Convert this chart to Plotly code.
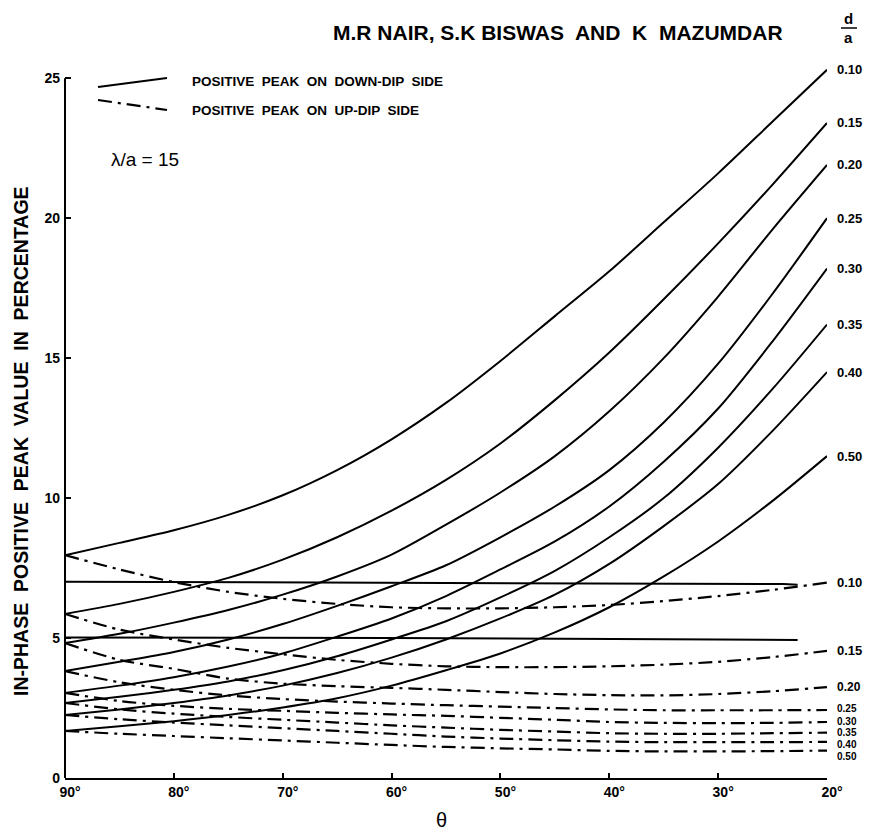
import plotly.graph_objects as go

# ---- data -------------------------------------------------------------
theta = [90, 85, 80, 75, 70, 65, 60, 55, 50, 45, 40, 35, 30, 25, 20]
ratios = ["0.10", "0.15", "0.20", "0.25", "0.30", "0.35", "0.40", "0.50"]

# positive peak on down-dip side (solid)
down_010 = [7.96, 8.4, 8.85, 9.4, 10.1, 11.0, 12.1, 13.4, 14.9, 16.5, 18.1, 19.85, 21.6, 23.45, 25.3]
down_015 = [5.86, 6.22, 6.65, 7.15, 7.8, 8.6, 9.55, 10.65, 11.95, 13.5, 15.2, 17.1, 19.1, 21.2, 23.4]
down_020 = [4.82, 5.15, 5.55, 6.0, 6.55, 7.2, 7.98, 9.05, 10.2, 11.5, 13.1, 15.0, 17.2, 19.6, 21.9]
down_025 = [3.82, 4.15, 4.5, 4.95, 5.5, 6.15, 6.85, 7.6, 8.6, 9.7, 11.0, 12.7, 14.8, 17.3, 20.0]
down_030 = [3.04, 3.3, 3.6, 3.98, 4.45, 5.05, 5.7, 6.5, 7.45, 8.45, 9.7, 11.3, 13.2, 15.6, 18.2]
down_035 = [2.68, 2.9, 3.15, 3.45, 3.85, 4.35, 4.95, 5.6, 6.45, 7.4, 8.6, 10.0, 11.8, 13.9, 16.2]
down_040 = [2.25, 2.45, 2.68, 2.95, 3.3, 3.75, 4.3, 4.95, 5.7, 6.55, 7.65, 9.0, 10.5, 12.4, 14.5]
down_050 = [1.68, 1.85, 2.03, 2.25, 2.52, 2.85, 3.3, 3.85, 4.45, 5.2, 6.1, 7.2, 8.45, 9.9, 11.5]

# positive peak on up-dip side (dash-dot)
up_010 = [7.96, 7.45, 7.0, 6.65, 6.4, 6.22, 6.1, 6.06, 6.06, 6.1, 6.18, 6.32, 6.5, 6.72, 6.98]
up_015 = [5.86, 5.3, 4.95, 4.65, 4.42, 4.22, 4.08, 3.99, 3.96, 3.96, 3.99, 4.05, 4.15, 4.32, 4.54]
up_020 = [4.82, 4.22, 3.9, 3.55, 3.37, 3.28, 3.22, 3.15, 3.07, 3.0, 2.96, 2.95, 3.0, 3.1, 3.25]
up_025 = [3.82, 3.42, 3.15, 2.95, 2.82, 2.73, 2.66, 2.6, 2.55, 2.5, 2.45, 2.42, 2.42, 2.42, 2.43]
up_030 = [3.04, 2.75, 2.58, 2.47, 2.4, 2.33, 2.27, 2.22, 2.15, 2.08, 2.0, 1.97, 1.96, 1.97, 2.0]
up_035 = [2.68, 2.45, 2.3, 2.18, 2.08, 1.98, 1.88, 1.8, 1.72, 1.66, 1.6, 1.58, 1.58, 1.6, 1.62]
up_040 = [2.25, 2.1, 1.98, 1.88, 1.78, 1.68, 1.58, 1.48, 1.41, 1.35, 1.3, 1.28, 1.28, 1.28, 1.29]
up_050 = [1.68, 1.58, 1.5, 1.42, 1.34, 1.26, 1.18, 1.11, 1.06, 1.02, 0.97, 0.95, 0.95, 0.96, 0.98]

# the two nearly horizontal solid lines
h_theta_a = [90, 60, 30, 24, 22.7]
h_vals_a = [7.01, 6.98, 6.95, 6.93, 6.9]
h_theta_b = [90, 60, 30, 22.7]
h_vals_b = [5.02, 5.0, 4.95, 4.93]

x_ticks = [90, 80, 70, 60, 50, 40, 30, 20]
x_ticktext = ["90°", "80°", "70°", "60°", "50°", "40°", "30°", "20°"]
y_ticks = [0, 5, 10, 15, 20, 25]

down_series = [down_010, down_015, down_020, down_025, down_030, down_035, down_040, down_050]
up_series = [up_010, up_015, up_020, up_025, up_030, up_035, up_040, up_050]

# ---- layout constants ---------------------------------------------------
W, H = 878, 836
ML, MR, MT, MB = 65, 51, 67, 58
Y_RANGE = [0, 25.4]
FONT = "Liberation Sans, Arial, sans-serif"
DASHDOT = "14px,6px,3px,6px"


def px_x(p):
    return (p - ML) / (W - ML - MR)


def px_y(p):
    return (H - MB - p) / (H - MT - MB)


# small vertical nudges (pixels) for the crowded up-dip labels at the right
up_label_shift = [0, 0, 0, 1, 1, 0, -3, -6]
up_label_size = [13, 13, 12, 10, 10, 10, 10, 10]

fig = go.Figure()

for name, vals in zip(ratios, down_series):
    fig.add_trace(go.Scatter(x=theta, y=vals, mode="lines", name=name,
                             line=dict(color="black", width=2, shape="spline", smoothing=0.8),
                             showlegend=False, hoverinfo="skip"))
for name, vals in zip(ratios, up_series):
    fig.add_trace(go.Scatter(x=theta, y=vals, mode="lines", name=name,
                             line=dict(color="black", width=2.2, dash=DASHDOT, shape="spline", smoothing=0.8),
                             showlegend=False, hoverinfo="skip"))
for hx, hy in [(h_theta_a, h_vals_a), (h_theta_b, h_vals_b)]:
    fig.add_trace(go.Scatter(x=hx, y=hy, mode="lines",
                             line=dict(color="black", width=2),
                             showlegend=False, hoverinfo="skip"))

annotations = []
for name, vals in zip(ratios, down_series):
    annotations.append(dict(x=theta[-1], y=vals[-1], xref="x", yref="y", text=name,
                            showarrow=False, xanchor="left", yanchor="middle", xshift=8,
                            font=dict(family=FONT, size=13, color="black", weight="bold")))
for name, vals, sh, sz in zip(ratios, up_series, up_label_shift, up_label_size):
    annotations.append(dict(x=theta[-1], y=vals[-1], xref="x", yref="y", text=name,
                            showarrow=False, xanchor="left", yanchor="middle", xshift=8, yshift=sh,
                            font=dict(family=FONT, size=sz, color="black", weight="bold")))

annotations += [
    dict(x=px_x(558), y=px_y(32), xref="paper", yref="paper", text="M.R NAIR, S.K BISWAS  AND  K  MAZUMDAR",
         showarrow=False, xanchor="center", yanchor="middle",
         font=dict(family=FONT, size=21, color="black", weight="bold")),
    dict(x=px_x(848), y=px_y(19), xref="paper", yref="paper", text="d", showarrow=False,
         xanchor="center", yanchor="middle", font=dict(family=FONT, size=15, color="black", weight="bold")),
    dict(x=px_x(848), y=px_y(38), xref="paper", yref="paper", text="a", showarrow=False,
         xanchor="center", yanchor="middle", font=dict(family=FONT, size=15, color="black", weight="bold")),
    dict(x=px_x(190), y=px_y(82), xref="paper", yref="paper", text="POSITIVE  PEAK  ON  DOWN-DIP  SIDE",
         showarrow=False, xanchor="left", yanchor="middle",
         font=dict(family=FONT, size=13.5, color="black", weight="bold")),
    dict(x=px_x(190), y=px_y(110), xref="paper", yref="paper", text="POSITIVE  PEAK  ON  UP-DIP  SIDE",
         showarrow=False, xanchor="left", yanchor="middle",
         font=dict(family=FONT, size=13.5, color="black", weight="bold")),
    dict(x=px_x(145), y=px_y(160), xref="paper", yref="paper", text="λ/a = 15",
         showarrow=False, xanchor="center", yanchor="middle",
         font=dict(family=FONT, size=19, color="black")),
    dict(x=px_x(21), y=px_y(441), xref="paper", yref="paper",
         text="IN-PHASE  POSITIVE  PEAK  VALUE  IN  PERCENTAGE",
         showarrow=False, textangle=-90, xanchor="center", yanchor="middle",
         font=dict(family=FONT, size=19.5, color="black", weight="bold")),
    dict(x=px_x(441), y=px_y(820), xref="paper", yref="paper", text="θ",
         showarrow=False, xanchor="center", yanchor="middle",
         font=dict(family=FONT, size=20, color="black")),
]

shapes = [
    # y axis line from 0 to 25 only
    dict(type="line", xref="paper", yref="y", x0=0, x1=0, y0=0, y1=25,
         line=dict(color="black", width=2)),
    # fraction bar of d/a
    dict(type="line", xref="paper", yref="paper", x0=px_x(841), x1=px_x(857), y0=px_y(28), y1=px_y(28),
         line=dict(color="black", width=1.5)),
    # legend samples
    dict(type="line", xref="paper", yref="paper", x0=px_x(98), x1=px_x(167), y0=px_y(87), y1=px_y(78),
         line=dict(color="black", width=2)),
    dict(type="line", xref="paper", yref="paper", x0=px_x(98), x1=px_x(167), y0=px_y(100), y1=px_y(110),
         line=dict(color="black", width=2.2, dash=DASHDOT)),
]

fig.update_layout(
    width=W, height=H,
    margin=dict(l=ML, r=MR, t=MT, b=MB),
    paper_bgcolor="white", plot_bgcolor="white",
    showlegend=False,
    annotations=annotations,
    shapes=shapes,
    font=dict(family=FONT, color="black"),
)
fig.update_xaxes(range=[90, 20], tickvals=x_ticks, ticktext=x_ticktext,
                 showline=True, linecolor="black", linewidth=2, showgrid=False, zeroline=False,
                 ticks="inside", ticklen=5, tickwidth=1.5, tickcolor="black",
                 ticklabelshift=-5,
                 tickfont=dict(family=FONT, size=14, color="black", weight="bold"))
fig.update_yaxes(range=Y_RANGE, tickvals=y_ticks,
                 showline=False, showgrid=False, zeroline=False,
                 ticks="inside", ticklen=6, tickwidth=1.5, tickcolor="black",
                 ticklabelstandoff=4,
                 tickfont=dict(family=FONT, size=14, color="black", weight="bold"))

fig.write_html("out.html")
